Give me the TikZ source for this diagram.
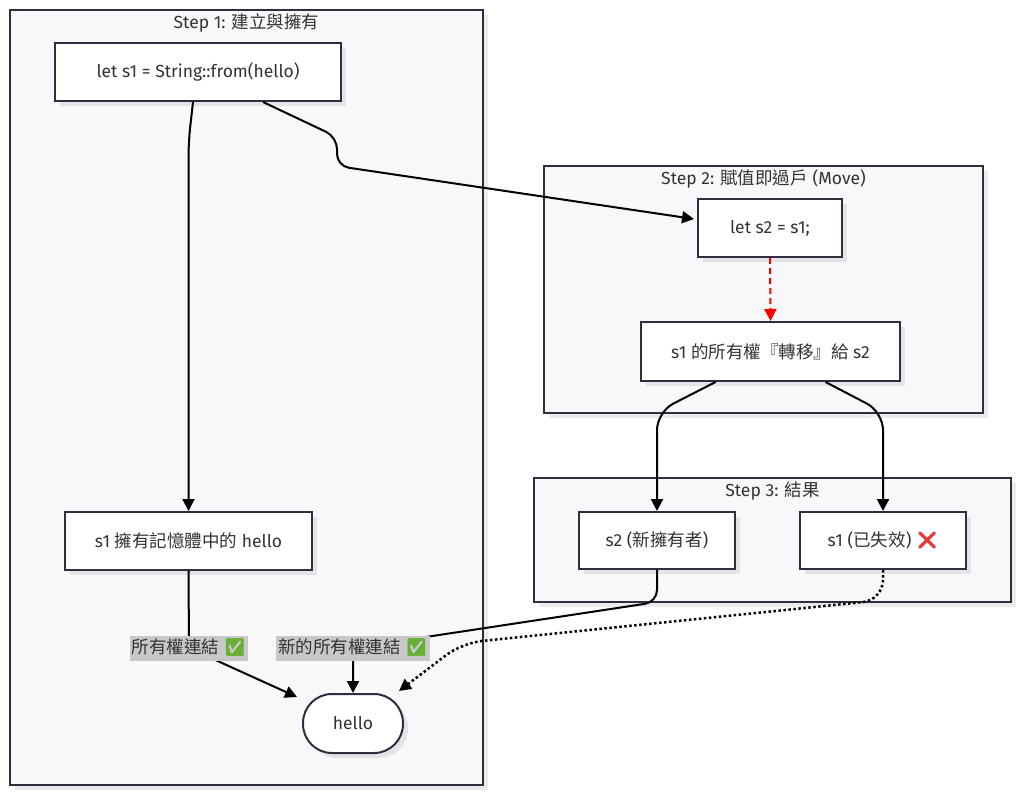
\documentclass[tikz,border=0pt]{standalone}
\usepackage{fontspec}
\setmainfont{Fira Sans}
\newfontfamily\cjkf{Noto Sans CJK TC}
\newfontfamily\emojifont{Noto Emoji}
\usetikzlibrary{arrows.meta,shadows}
\definecolor{bd}{HTML}{2E2E3E}
\definecolor{txt}{HTML}{333333}
\definecolor{cfill}{HTML}{F8F8FA}
\definecolor{lblfill}{HTML}{C8C8C8}
\definecolor{okgreen}{HTML}{6AAF35}
\definecolor{xred}{HTML}{E53935}
\newcommand{\cj}[1]{{\cjkf\fontsize{17.5}{21}\selectfont #1}}
\newcommand{\okmark}{{\emojifont\textcolor{okgreen}{✅}}}
\newcommand{\xmark}{{\emojifont\textcolor{xred}{❌}}}
\begin{document}
\begin{tikzpicture}[x=1pt,y=-1pt, font=\fontsize{17.5}{21}\selectfont, text=txt,
  shad/.style={drop shadow={shadow xshift=5pt,shadow yshift=-5pt,fill=black,opacity=0.08}},
  cont/.style={draw=bd, line width=1.6pt, fill=cfill, shad, inner sep=0pt},
  box/.style={draw=bd, line width=2pt, fill=white, shad, inner sep=0pt},
  ttl/.style={anchor=north, inner sep=0pt},
  arr/.style={draw=black, line width=2pt, -{Triangle[length=12pt,width=12pt]}},
  lbl/.style={fill=lblfill, inner xsep=2pt, inner ysep=0pt, minimum height=25pt}]
\useasboundingbox (0,0) rectangle (1024,798);
% containers
\node[cont, minimum width=473, minimum height=775] (S1) at (246.5,397.5) {};
\node[cont, minimum width=439, minimum height=247] (S2) at (763.5,289.5) {};
\node[cont, minimum width=477, minimum height=124] (S3) at (772.5,540) {};
\node[ttl] (T1) at ([yshift=-4pt]S1.north) {Step 1: \cj{建立與擁有}};
\node[ttl] (T2) at ([yshift=-4pt]S2.north) {Step 2: \cj{賦值即過戶} (Move)};
\node[ttl] (T3) at ([yshift=-4pt]S3.north) {Step 3: \cj{結果}};
% nodes
\node[box, minimum width=286, minimum height=58] (A) at (198,72) {let s1 = String::from(hello)};
\node[box, minimum width=247, minimum height=58] (B) at (188.5,541) {s1 \cj{擁有記憶體中的} hello};
\node[box, rounded corners=29pt, minimum width=100, minimum height=59] (H) at (353,723.5) {hello};
\node[box, minimum width=144, minimum height=58] (C) at (770,228) {let s2 = s1;};
\node[box, minimum width=259, minimum height=59] (D) at (770.5,351.5) {s1 \cj{的所有權『轉移』給} s2};
\node[box, minimum width=156, minimum height=57] (E) at (657,540.5) {s2 (\cj{新擁有者})};
\node[box, minimum width=166, minimum height=57] (F) at (883,540.5) {s1 (\cj{已失效}) \xmark};
% edges
\draw[arr, rounded corners=15pt] ([xshift=-5pt]A.south) -- ([yshift=-40pt]A.south -| B.north) -- (B.north);
\draw[arr, rounded corners=12pt] ([xshift=65pt]A.south) -- (337,137) -- (337,166) -- ([xshift=-3pt,yshift=9pt]C.west);
\draw[arr, draw=red, -{Triangle[length=12pt,width=12pt,fill=red]}, dash pattern=on 6pt off 4pt] (C.south) -- (D.north);
\draw[arr, rounded corners=18pt] ([xshift=-55pt]D.south) -- ([yshift=-30pt]D.south -| E.north) -- (E.north);
\draw[arr, rounded corners=18pt] ([xshift=55pt]D.south) -- ([yshift=-30pt]D.south -| F.north) -- (F.north);
\coordinate (l1) at (189,648);
\coordinate (l2) at (353,648);
\draw[arr] (B.south) -- (l1) -- ([xshift=-5pt,yshift=-4pt]H.north west);
\draw[arr, rounded corners=12pt] (E.south) -- ([yshift=-32pt]E.south) -- (l2) -- (H.north);
\draw[arr, line width=2.5pt, dash pattern=on 2.5pt off 2.5pt, rounded corners=20pt] (F.south) -- ([yshift=-30pt]F.south) -- (462,643) -- ([xshift=-5pt,yshift=2pt]H.north east);
\node[lbl] (L1) at (l1) {\cj{所有權連結} \okmark};
\node[lbl] (L2) at (l2) {\cj{新的所有權連結} \okmark};
\end{tikzpicture}
\end{document}
